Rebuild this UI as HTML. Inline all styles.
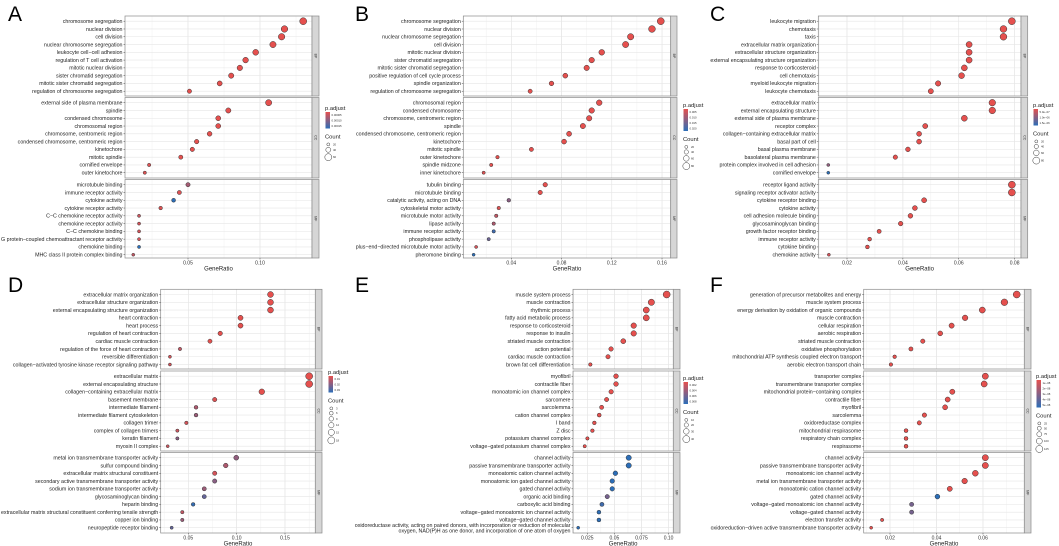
<!DOCTYPE html>
<html><head><meta charset="utf-8"><style>
html,body{margin:0;padding:0;background:#fff;}
svg{display:block;font-family:"Liberation Sans",sans-serif;}
</style></head><body>
<svg id="fig" width="1059" height="546" viewBox="0 0 1059 546"></svg>
<script>
// ---------- DATA ----------
const aBP=["chromosome segregation","nuclear division","cell division","nuclear chromosome segregation","leukocyte cell−cell adhesion","regulation of T cell activation","mitotic nuclear division","sister chromatid segregation","mitotic sister chromatid segregation","regulation of chromosome segregation"];
const aBPv=[0.130,0.117,0.115,0.109,0.097,0.090,0.086,0.080,0.072,0.051];
const aBPp=[0,0,0,0,0,0,0,0,0,0];
const aCC=["external side of plasma membrane","spindle","condensed chromosome","chromosomal region","chromosome, centromeric region","condensed chromosome, centromeric region","kinetochore","mitotic spindle","cornified envelope","outer kinetochore"];
const aCCv=[0.106,0.078,0.071,0.071,0.065,0.056,0.053,0.045,0.023,0.020];
const aCCp=[0,0,0,0,0,0,0,0,0.05,0.05];
const aMF=["microtubule binding","immune receptor activity","cytokine activity","cytokine receptor activity","C−C chemokine receptor activity","chemokine receptor activity","C−C chemokine binding","G protein−coupled chemoattractant receptor activity","chemokine binding","MHC class II protein complex binding"];
const aMFv=[0.050,0.044,0.040,0.031,0.016,0.016,0.016,0.016,0.016,0.012];
const aMFp=[0.35,0.05,1,0.05,0.15,0.1,0.1,0.1,1,0.2];

const bBP=["chromosome segregation","nuclear division","nuclear chromosome segregation","cell division","mitotic nuclear division","sister chromatid segregation","mitotic sister chromatid segregation","positive regulation of cell cycle process","spindle organization","regulation of chromosome segregation"];
const bBPv=[0.159,0.152,0.135,0.131,0.112,0.104,0.100,0.083,0.072,0.055];
const bBPp=[0,0,0,0,0,0,0,0,0,0];
const bCC=["chromosomal region","condensed chromosome","chromosome, centromeric region","spindle","condensed chromosome, centromeric region","kinetochore","mitotic spindle","outer kinetochore","spindle midzone","inner kinetochore"];
const bCCv=[0.110,0.104,0.102,0.097,0.086,0.082,0.056,0.029,0.024,0.018];
const bCCp=[0,0,0,0,0,0,0,0,0,0.05];
const bMF=["tubulin binding","microtubule binding","catalytic activity, acting on DNA","cytoskeletal motor activity","microtubule motor activity","lipase activity","immune receptor activity","phospholipase activity","plus−end−directed microtubule motor activity","pheromone binding"];
const bMFv=[0.067,0.063,0.038,0.030,0.028,0.026,0.026,0.022,0.012,0.010];
const bMFp=[0,0,0.5,0.05,0.2,0.3,0.9,0.65,0.1,1];

const cBP=["leukocyte migration","chemotaxis","taxis","extracellular matrix organization","extracellular structure organization","external encapsulating structure organization","response to corticosteroid","cell chemotaxis","myeloid leukocyte migration","leukocyte chemotaxis"];
const cBPv=[0.079,0.076,0.076,0.0637,0.0637,0.0637,0.062,0.061,0.0526,0.050];
const cBPp=[0,0,0,0,0,0,0,0,0,0];
const cCC=["extracellular matrix","external encapsulating structure","external side of plasma membrane","receptor complex","collagen−containing extracellular matrix","basal part of cell","basal plasma membrane","basolateral plasma membrane","protein complex involved in cell adhesion","cornified envelope"];
const cCCv=[0.072,0.072,0.062,0.048,0.0458,0.0458,0.0418,0.0373,0.0133,0.0133];
const cCCp=[0,0,0,0,0,0,0,0,0.45,1];
const cMF=["receptor ligand activity","signaling receptor activator activity","cytokine receptor binding","cytokine activity","cell adhesion molecule binding","glycosaminoglycan binding","growth factor receptor binding","immune receptor activity","cytokine binding","chemokine activity"];
const cMFv=[0.079,0.079,0.0476,0.0443,0.0427,0.0392,0.0315,0.0281,0.0273,0.0135];
const cMFp=[0,0,0,0,0,0,0,0,0,0.1];

const dBP=["extracellular matrix organization","extracellular structure organization","external encapsulating structure organization","heart contraction","heart process","regulation of heart contraction","cardiac muscle contraction","regulation of the force of heart contraction","reversible differentiation","collagen−activated tyrosine kinase receptor signaling pathway"];
const dBPv=[0.135,0.135,0.135,0.104,0.104,0.083,0.0724,0.0414,0.031,0.031];
const dBPp=[0,0,0,0,0,0,0,0.2,0.1,0.1];
const dCC=["extracellular matrix","external encapsulating structure","collagen−containing extracellular matrix","basement membrane","intermediate filament","intermediate filament cytoskeleton","collagen trimer","complex of collagen trimers","keratin filament","myosin II complex"];
const dCCv=[0.175,0.175,0.126,0.0773,0.058,0.058,0.048,0.0387,0.0387,0.0287];
const dCCp=[0,0,0,0.05,0.3,0.4,0.1,0.15,0.5,0.15];
const dMF=["metal ion transmembrane transporter activity","sulfur compound binding","extracellular matrix structural constituent","secondary active transmembrane transporter activity","sodium ion transmembrane transporter activity","glycosaminoglycan binding","heparin binding","extracellular matrix structural constituent conferring tensile strength","copper ion binding","neuropeptide receptor binding"];
const dMFv=[0.0996,0.0887,0.0773,0.0773,0.0665,0.0665,0.055,0.0438,0.0438,0.0328];
const dMFp=[0.45,0.3,0.1,0.5,0.4,0.7,0.95,0.2,0.4,0.7];

const eBP=["muscle system process","muscle contraction","rhythmic process","fatty acid metabolic process","response to corticosteroid","response to insulin","striated muscle contraction","action potential","cardiac muscle contraction","brown fat cell differentiation"];
const eBPv=[0.0982,0.0841,0.0794,0.0794,0.0678,0.0678,0.0582,0.0469,0.0441,0.0278];
const eBPp=[0,0,0,0,0,0,0,0,0,0];
const eCC=["myofibril","contractile fiber","monoatomic ion channel complex","sarcomere","sarcolemma","cation channel complex","I band","Z disc","potassium channel complex","voltage−gated potassium channel complex"];
const eCCv=[0.0515,0.0515,0.047,0.0428,0.0382,0.036,0.0315,0.0297,0.0251,0.0226];
const eCCp=[0,0,0,0,0,0,0,0,0,0];
const eMF=["channel activity","passive transmembrane transporter activity","monoatomic cation channel activity","monoatomic ion gated channel activity","gated channel activity","organic acid binding","carboxylic acid binding","voltage−gated monoatomic ion channel activity","voltage−gated channel activity","oxidoreductase activity, acting on paired donors, with incorporation or reduction of molecular\noxygen, NAD(P)H as one donor, and incorporation of one atom of oxygen"];
const eMFv=[0.0632,0.0632,0.0509,0.048,0.048,0.0434,0.0385,0.0357,0.0357,0.0166];
const eMFp=[1,1,1,1,1,0.6,0.9,1,1,1];

const fBP=["generation of precursor metabolites and energy","muscle system process","energy derivation by oxidation of organic compounds","muscle contraction","cellular respiration","aerobic respiration","striated muscle contraction","oxidative phosphorylation","mitochondrial ATP synthesis coupled electron transport","aerobic electron transport chain"];
const fBPv=[0.0745,0.0692,0.0597,0.0523,0.0465,0.0416,0.0341,0.029,0.022,0.0204];
const fBPp=[0,0,0,0,0,0,0,0,0,0];
const fCC=["transporter complex","transmembrane transporter complex","mitochondrial protein−containing complex","contractile fiber","myofibril","sarcolemma","oxidoreductase complex","mitochondrial respirasome","respiratory chain complex","respirasome"];
const fCCv=[0.061,0.0605,0.0468,0.0448,0.0437,0.0348,0.0326,0.0269,0.0269,0.0269];
const fCCp=[0,0,0,0,0,0,0,0,0,0];
const fMF=["channel activity","passive transmembrane transporter activity","monoatomic ion channel activity","metal ion transmembrane transporter activity","monoatomic cation channel activity","gated channel activity","voltage−gated monoatomic ion channel activity","voltage−gated channel activity","electron transfer activity","oxidoreduction−driven active transmembrane transporter activity"];
const fMFv=[0.061,0.061,0.0567,0.0521,0.0457,0.0404,0.0293,0.0293,0.0166,0.0119];
const fMFp=[0,0,0,0,0,1,0.6,0.6,0,0];

const aTicks=[0.05,0.10], bTicks=[0.04,0.08,0.12,0.16], cTicks=[0.02,0.04,0.06,0.08];
const dTicks=[0.05,0.10,0.15], eTicks=[0.025,0.050,0.075,0.100], fTicks=[0.02,0.04,0.06];
const aPad=["0.00005","0.00010","0.00015"], bPad=["0.005","0.010","0.015","0.020"], cPad=["5.0e−07","1.0e−06","1.5e−06"];
const dPad=["0.01","0.02","0.03"], ePad=["0.002","0.004","0.006","0.008"], fPad=["1e−08","2e−08","3e−08","4e−08","5e−08"];
const aCnt=["20","40","60"], bCnt=["20","40","60","80"], cCnt=["20","40","60","80"];
const dCnt=["3","6","9","12","15","18"], eCnt=["10","20","30","40"], fCnt=["25","50","75","100","125"];

// ---------- LAYOUT ----------
const panels=[
 {id:"a",L:"A",lx:8,ly:21,left:125,right:312,strip:319,t0:188,v0:0.05,k:1440,top:true,ticks:aTicks,pad:aPad,cnt:aCnt,lgx:325,lgy:110,
  sets:[[aBP,aBPv,aBPp],[aCC,aCCv,aCCp],[aMF,aMFv,aMFp]]},
 {id:"b",L:"B",lx:355,ly:21,left:463.3,right:670.7,strip:677,t0:511.3,v0:0.04,k:1256,top:true,ticks:bTicks,pad:bPad,cnt:bCnt,lgx:683,lgy:107,
  sets:[[bBP,bBPv,bBPp],[bCC,bCCv,bCCp],[bMF,bMFv,bMFp]]},
 {id:"c",L:"C",lx:710,ly:21,left:818.3,right:1021,strip:1027.7,t0:847,v0:0.02,k:2794,top:true,ticks:cTicks,pad:cPad,cnt:cCnt,lgx:1033,lgy:107,
  sets:[[cBP,cBPv,cBPp],[cCC,cCCv,cCCp],[cMF,cMFv,cMFp]]},
 {id:"d",L:"D",lx:8,ly:292,left:160.7,right:315.3,strip:322,t0:188.3,v0:0.05,k:967,top:false,ticks:dTicks,pad:dPad,cnt:dCnt,lgx:328,lgy:374,
  sets:[[dBP,dBPv,dBPp],[dCC,dCCv,dCCp],[dMF,dMFv,dMFp]]},
 {id:"e",L:"E",lx:355,ly:292,left:573,right:673.3,strip:680,t0:587.3,v0:0.025,k:1084,top:false,ticks:eTicks,pad:ePad,cnt:eCnt,lgx:683,lgy:380,
  sets:[[eBP,eBPv,eBPp],[eCC,eCCv,eCCp],[eMF,eMFv,eMFp]]},
 {id:"f",L:"F",lx:710,ly:292,left:863.7,right:1024.3,strip:1031,t0:890,v0:0.02,k:2325,top:false,ticks:fTicks,pad:fPad,cnt:fCnt,lgx:1036,lgy:378,
  sets:[[fBP,fBPv,fBPp],[fCC,fCCv,fCCp],[fMF,fMFv,fMFp]]}
];
const facetTop={true:[[16,96],[97.5,178],[179.5,258]],false:[[289.3,369],[371,451],[452.5,533]]};
const ontNames=["BP","CC","MF"];
const NS="http://www.w3.org/2000/svg";
const svg=document.getElementById("fig");
function mk(tag,attrs,parent,text){const e=document.createElementNS(NS,tag);for(const k in attrs)e.setAttribute(k,attrs[k]);if(text!==undefined)e.textContent=text;(parent||svg).appendChild(e);return e;}
function col(p){const r=[229,80,78],b=[44,110,184];return "rgb("+r.map((c,i)=>Math.round(c+(b[i]-c)*p)).join(",")+")";}

const defs=mk("defs",{});
const lg=mk("linearGradient",{id:"pgrad",x1:0,y1:0,x2:0,y2:1},defs);
mk("stop",{offset:"0",  "stop-color":col(0)},lg);
mk("stop",{offset:"0.5","stop-color":col(0.5)},lg);
mk("stop",{offset:"1",  "stop-color":col(1)},lg);

panels.forEach(P=>{
  const g=mk("g",{});
  
  
  const xs=v=>P.t0+(v-P.v0)*P.k;
  const letter=mk("text",{x:P.lx,y:P.ly,"font-size":21,fill:"#000"},g,P.L);
  
  
  const all=[].concat(...P.sets.map(s=>s[1]));
  const vmin=Math.min(...all),vmax=Math.max(...all);
  const rs=v=>1.5+(v-vmin)/(vmax-vmin)*2.0;
  const facets=facetTop[P.top];
  P.sets.forEach((S,fi)=>{
    const [ft,fb]=facets[fi];
    const fg=mk("g",{},g);
    
    
    mk("rect",{x:P.left,y:ft,width:P.right-P.left,height:fb-ft,fill:"#fff"},fg);
    // grid
    const minorV=[];const step=P.ticks[1]-P.ticks[0];
    for(let v=P.ticks[0]-step*2;v<=P.ticks[P.ticks.length-1]+step*2;v+=step/2)minorV.push(v);
    minorV.forEach(v=>{const x=xs(v);if(x>P.left&&x<P.right)mk("line",{x1:x,x2:x,y1:ft,y2:fb,stroke:"#f0f0f0","stroke-width":0.5},fg);});
    P.ticks.forEach(v=>{const x=xs(v);mk("line",{x1:x,x2:x,y1:ft,y2:fb,stroke:"#e2e2e2","stroke-width":0.6},fg);});
    const ys=i=>ft+5.2+i*7.78;
    S[0].forEach((t,i)=>{mk("line",{x1:P.left,x2:P.right,y1:ys(i),y2:ys(i),stroke:"#e6e6e6","stroke-width":0.6},fg);});
    mk("rect",{x:P.left,y:ft,width:P.right-P.left,height:fb-ft,fill:"none",stroke:"#8a8a8a","stroke-width":0.7},fg);
    const st=mk("rect",{x:P.right,y:ft,width:P.strip-P.right,height:fb-ft,fill:"#d6d6d6",stroke:"#8a8a8a","stroke-width":0.7},fg);
    
    
    const sx=(P.right+P.strip)/2,sy=(ft+fb)/2;
    mk("text",{x:sx,y:sy,"font-size":3.5,fill:"#333","text-anchor":"middle","dominant-baseline":"middle",transform:`rotate(90 ${sx} ${sy})`},fg,ontNames[fi]);
    S[0].forEach((t,i)=>{
      const y=ys(i);
      mk("line",{x1:P.left-1.5,x2:P.left,y1:y,y2:y,stroke:"#444","stroke-width":0.5},fg);
      const lines=t.split("\n");
      const lab=mk("text",{x:P.left-2.5,y:y+1.8-(lines.length-1)*2.6,"font-size":5.3,fill:"#222","text-anchor":"end"},fg);
      
      
      lines.forEach((ln,li)=>{mk("tspan",{x:P.left-2.5,dy:li?5.6:0},lab,ln);});
      const c=mk("circle",{cx:xs(S[1][i]),cy:y,r:rs(S[1][i]),fill:col(S[2][i]),stroke:"#333","stroke-width":0.5},fg);
      
      
    });
  });
  const by=facets[2][1];
  P.ticks.forEach(v=>{const x=xs(v);
    mk("line",{x1:x,x2:x,y1:by,y2:by+1.5,stroke:"#444","stroke-width":0.5},g);
    const tl=mk("text",{x:x,y:by+6.5,"font-size":5,fill:"#333","text-anchor":"middle"},g,v.toFixed(String(v).split(".")[1].length<2?2:String(v).split(".")[1].length));
    
    
  });
  const xt=mk("text",{x:(P.left+P.right)/2,y:by+12.5,"font-size":6,fill:"#222","text-anchor":"middle"},g,"GeneRatio");
  
  
  // legend
  const lgG=mk("g",{},g);
  
  
  mk("text",{x:P.lgx,y:P.lgy,"font-size":5.8,fill:"#222"},lgG,"p.adjust");
  const ch=5.5*P.pad.length;
  mk("rect",{x:P.lgx+0.5,y:P.lgy+2,width:4.5,height:ch,fill:"url(#pgrad)"},lgG);
  P.pad.forEach((p,i)=>{mk("text",{x:P.lgx+6.5,y:P.lgy+2+(i+0.7)*ch/P.pad.length,"font-size":2.8,fill:"#333"},lgG,p);});
  const cy0=P.lgy+ch+12;
  mk("text",{x:P.lgx,y:cy0,"font-size":5.8,fill:"#222"},lgG,"Count");
  let yy=cy0+3;
  P.cnt.forEach((c,i)=>{const r=1.5+i*2/(P.cnt.length-1);yy+=r+1.4;
    mk("circle",{cx:P.lgx+3.3,cy:yy,r:r,fill:"none",stroke:"#333","stroke-width":0.5},lgG);
    mk("text",{x:P.lgx+8,y:yy+1,"font-size":2.8,fill:"#333"},lgG,c);yy+=r;});
});
</script>
</body></html>
